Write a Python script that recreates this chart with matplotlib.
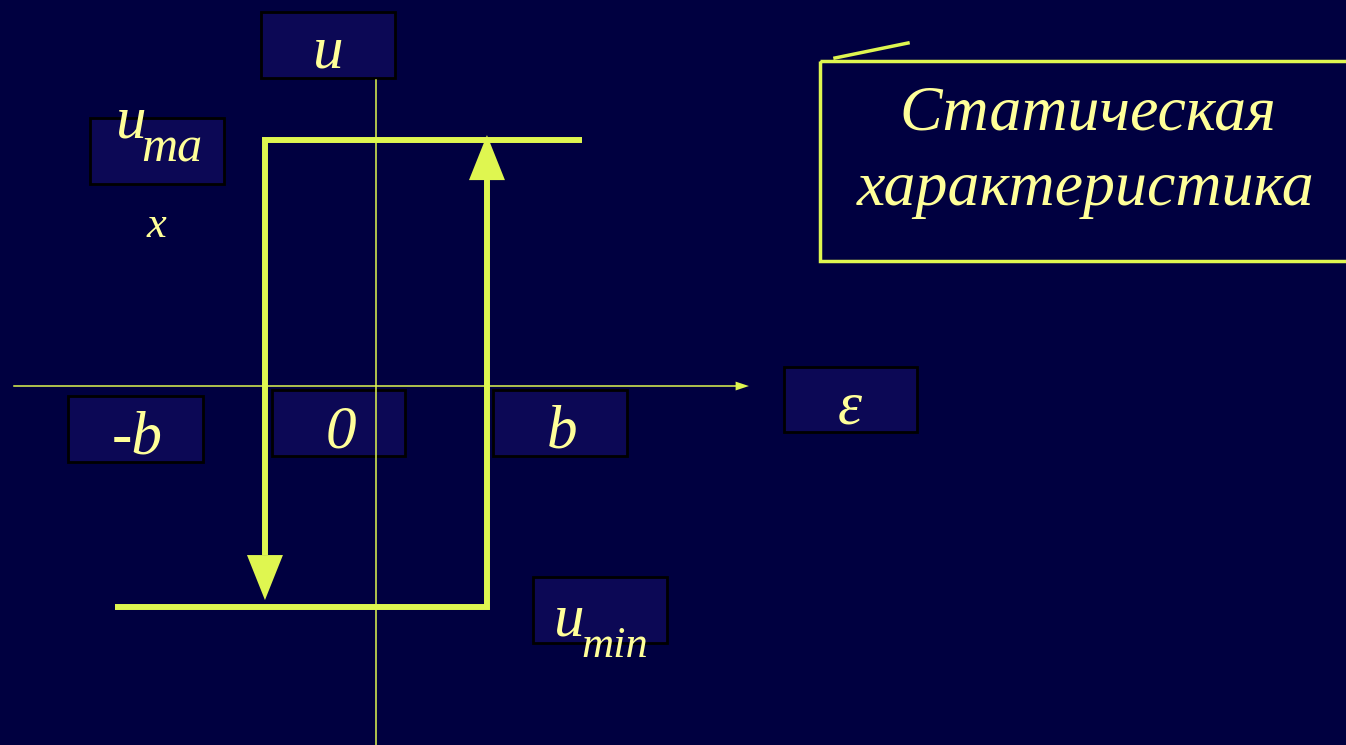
import matplotlib
matplotlib.use("Agg")
import matplotlib.pyplot as plt
from matplotlib.patches import Rectangle, Polygon

# relay characteristic with hysteresis (values in units of b / u_max)
b = 1.0
u_max = 1.0
u_min = -0.9
upper_eps = [-b, 1.86]      # upper branch, eps range
lower_eps = [-2.35, b]      # lower branch, eps range
tick_labels = ["-b", "0", "b"]
title_lines = ["Статическая", "характеристика"]

BG = "#000040"
BOX = "#0c0855"
LINE = "#dff650"
TXT = "#ffff99"
W, H = 1346, 745

fig = plt.figure(figsize=(W / 100, H / 100), dpi=100, facecolor=BG)

# pixel layer for label boxes and the title
lay = fig.add_axes([0, 0, 1, 1])
lay.set_xlim(0, W)
lay.set_ylim(H, 0)
lay.axis("off")
lay.set_facecolor(BG)

font = dict(family="Liberation Serif", style="italic", color=TXT)

def box(x0, y0, x1, y1):
    lay.add_patch(Rectangle((x0, y0), x1 - x0, y1 - y0, facecolor=BOX,
                            edgecolor="black", lw=2))

box(261, 12, 395, 78)
lay.text(328, 68, "u", fontsize=44, ha="center", va="baseline", **font)

box(90, 118, 224, 184)
lay.text(131, 137, "u", fontsize=44, ha="center", va="baseline", **font)
lay.text(172, 162, "ma", fontsize=36, ha="center", va="baseline", **font)
lay.text(156, 237, "x", fontsize=32, ha="center", va="baseline", **font)

tick_boxes = [(68, 396, 203, 462), (272, 390, 405, 456), (493, 390, 627, 456)]
for lbl, (x0, y0, x1, y1) in zip(tick_labels, tick_boxes):
    box(x0, y0, x1, y1)
    lay.text((x0 + x1) / 2 + 2, y1 - 8, lbl, fontsize=44, ha="center",
             va="baseline", **font)

box(784, 367, 917, 432)
lay.text(850, 424, "ε", fontsize=44, ha="center", va="baseline", **font)

box(533, 577, 667, 643)
lay.text(569, 635, "u", fontsize=44, ha="center", va="baseline", **font)
lay.text(615, 657, "min", fontsize=32, ha="center", va="baseline", **font)

# title frame
lay.add_patch(Rectangle((820, 61), 540, 200, facecolor="none",
                        edgecolor=LINE, lw=2.5))
lay.plot([835, 908], [58, 43], color=LINE, lw=2.5)
lay.text(1088, 130, title_lines[0], fontsize=46, ha="center", va="baseline", **font)
lay.text(1086, 205, title_lines[1], fontsize=46, ha="center", va="baseline", **font)

# data layer: eps on x, u on y
ax = fig.add_axes([0, 0, 1, 1])
ax.set_xlim(-3.387, 8.739)
ax.set_ylim(-1.459, 1.569)
ax.axis("off")
ax.patch.set_alpha(0)

# coordinate axes
ax.plot([0, 0], [-1.459, 1.244], color=LINE, lw=1.1)
ax.plot([-3.26, 3.25], [0, 0], color=LINE, lw=1.1)
ax.add_patch(Polygon([[3.36, 0], [3.24, 0.018], [3.24, -0.018]], closed=True,
                     color=LINE, lw=0))

# hysteresis loop
head_len, head_w = 0.183, 0.162
down_tip = u_min + 0.03
up_tip = u_max + 0.02
ax.plot([-b, -b, upper_eps[1]], [down_tip + head_len, u_max, u_max],
        color=LINE, lw=4.3, solid_joinstyle="miter", solid_capstyle="butt")
ax.plot([lower_eps[0], b, b], [u_min, u_min, up_tip - head_len],
        color=LINE, lw=4.3, solid_joinstyle="miter", solid_capstyle="butt")
ax.add_patch(Polygon([[-b, down_tip], [-b - head_w, down_tip + head_len],
                      [-b + head_w, down_tip + head_len]], closed=True,
                     color=LINE, lw=0))
ax.add_patch(Polygon([[b, up_tip], [b - head_w, up_tip - head_len],
                      [b + head_w, up_tip - head_len]], closed=True,
                     color=LINE, lw=0))

fig.savefig("out.png", dpi=100, facecolor=BG)
